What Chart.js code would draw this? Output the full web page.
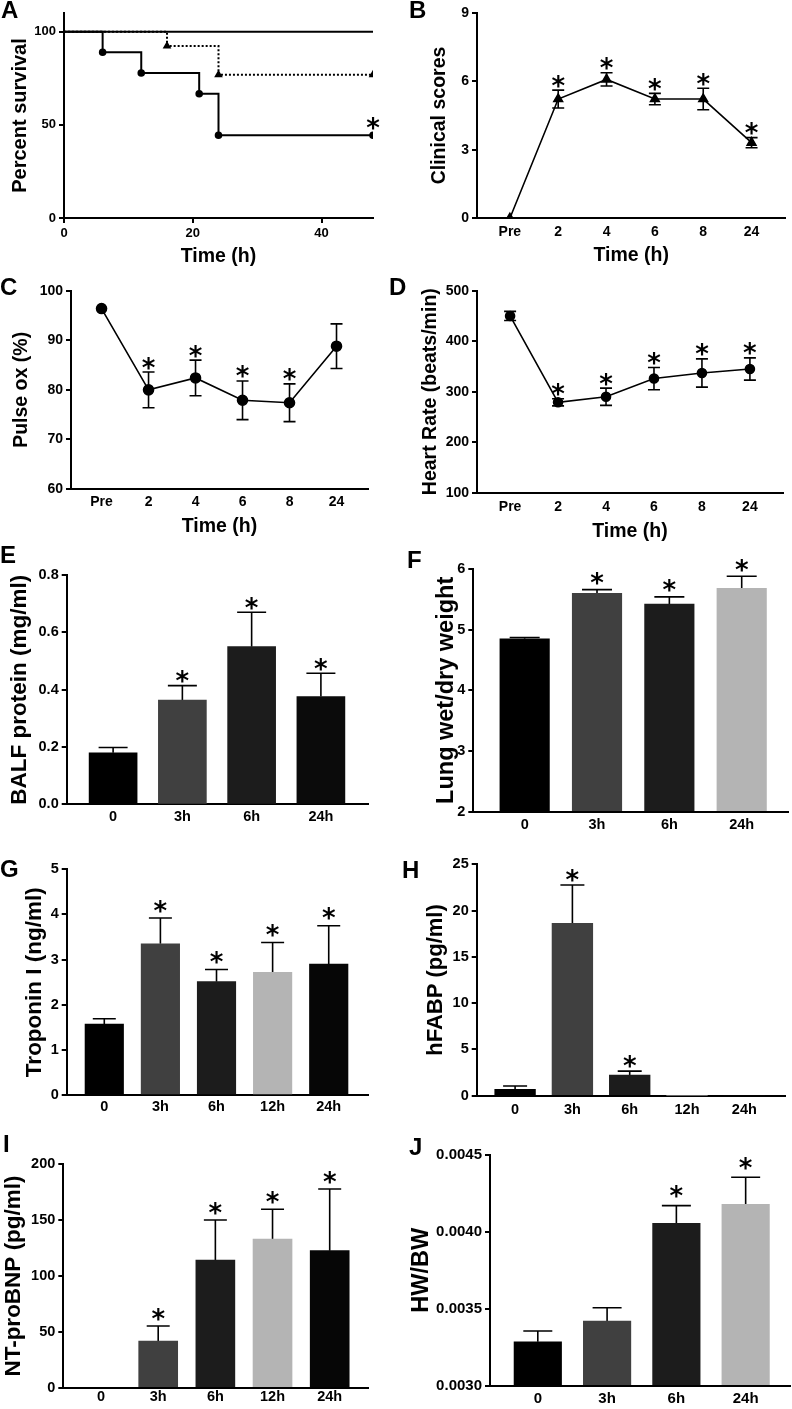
<!DOCTYPE html>
<html lang="en">
<head>
<meta charset="UTF-8">
<title>LPS time course - panels A to J</title>
<script src="https://cdn.jsdelivr.net/npm/chart.js"></script>
<style>
  body { margin: 0; background: #fff; }
  #fig { position: relative; width: 792px; height: 1409px; overflow: hidden; }
  #fig canvas { position: absolute; }
  .lbl { position: absolute; font: bold 24px "Liberation Sans", Arial, sans-serif; line-height: 24px; color: #000; }
</style>
</head>
<body>
<div id="fig">
  <canvas id="cA"></canvas><canvas id="cB"></canvas>
  <canvas id="cC"></canvas><canvas id="cD"></canvas>
  <canvas id="cE"></canvas><canvas id="cF"></canvas>
  <canvas id="cG"></canvas><canvas id="cH"></canvas>
  <canvas id="cI"></canvas><canvas id="cJ"></canvas>
  <div class="lbl" style="left:1px;top:-2px">A</div>
  <div class="lbl" style="left:409px;top:-2px">B</div>
  <div class="lbl" style="left:0px;top:275px">C</div>
  <div class="lbl" style="left:389px;top:275px">D</div>
  <div class="lbl" style="left:0px;top:543px">E</div>
  <div class="lbl" style="left:407px;top:548px">F</div>
  <div class="lbl" style="left:0px;top:857px">G</div>
  <div class="lbl" style="left:402px;top:858px">H</div>
  <div class="lbl" style="left:3px;top:1132px">I</div>
  <div class="lbl" style="left:409px;top:1135px">J</div>
</div>
<script>
  // ---- data ----
  // A: survival (%)
  const ctrlTimes = [0, 48];
  const ctrlSurv = [100, 100];
  const midTimes = [0, 16, 24, 48];
  const midSurv = [100, 92.3, 76.9, 76.9];
  const lpsTimes = [0, 6, 12, 21, 24, 48];
  const lpsSurv = [100, 88.9, 77.8, 66.7, 44.4, 44.4];
  const lpsSig = [false, false, false, false, false, true];

  // B-D: time course
  const timeLabels = ['Pre', '2', '4', '6', '8', '24'];
  const clinMean = [0, 5.22, 6.08, 5.22, 5.22, 3.31];
  const clinErr = [0, 0.39, 0.29, 0.25, 0.47, 0.22];
  const clinSig = [false, true, true, true, true, true];
  const oxMean = [96.4, 80.0, 82.4, 77.9, 77.4, 88.8];
  const oxErr = [0, 3.6, 3.6, 3.9, 3.8, 4.5];
  const oxSig = [false, true, true, true, true, false];
  const hrMean = [450, 279, 290, 326, 337, 345];
  const hrErr = [9, 7, 17, 22, 28, 22];
  const hrSig = [false, true, true, true, true, true];

  // E-J: bars
  const groups4 = ['0', '3h', '6h', '24h'];
  const groups5 = ['0', '3h', '6h', '12h', '24h'];
  const balfMean = [0.180, 0.364, 0.550, 0.376];
  const balfErr = [0.018, 0.050, 0.120, 0.081];
  const balfSig = [false, true, true, true];
  const lungMean = [4.85, 5.60, 5.42, 5.68];
  const lungErr = [0.02, 0.06, 0.12, 0.20];
  const lungSig = [false, true, true, true];
  const tropMean = [1.57, 3.35, 2.51, 2.72, 2.90];
  const tropErr = [0.12, 0.57, 0.27, 0.66, 0.85];
  const tropSig = [false, true, true, true, true];
  const fabpMean = [0.68, 18.62, 2.23, 0, 0];
  const fabpErr = [0.36, 4.15, 0.43, 0, 0];
  const fabpSig = [false, true, true, false, false];
  const bnpMean = [0, 41.8, 114.3, 133.1, 122.7];
  const bnpErr = [0, 13.4, 35.8, 26.6, 55.2];
  const bnpSig = [false, true, true, true, true];
  const hwMean = [0.003286, 0.003420, 0.004056, 0.004179];
  const hwErr = [0.000070, 0.000087, 0.000115, 0.000176];
  const hwSig = [false, false, true, true];

  const colors4 = ['#000000', '#404040', '#1c1c1c', '#0b0b0b'];
  const colors4b = ['#000000', '#404040', '#1c1c1c', '#b4b4b4'];
  const colors5 = ['#000000', '#404040', '#1c1c1c', '#b4b4b4', '#060606'];

  const FONT = '"Liberation Sans", Arial, Helvetica, sans-serif';

  // error bars + asterisks, drawn from the scales
  function errorBars(e) {
    return {
      id: 'errorBars',
      beforeDatasetsDraw(chart) {
        const { ctx, scales: { x, y } } = chart;
        ctx.save();
        ctx.strokeStyle = '#000';
        ctx.lineWidth = 1.6;
        e.mean.forEach((m, i) => {
          const err = e.err ? e.err[i] : 0;
          if (!err) return;
          const px = x.getPixelForValue(e.xs ? e.xs[i] : i);
          const top = y.getPixelForValue(m + err);
          const bot = y.getPixelForValue(e.both ? m - err : m);
          const hw = e.cap / 2;
          ctx.beginPath();
          ctx.moveTo(px, bot); ctx.lineTo(px, top);
          ctx.moveTo(px - hw, top); ctx.lineTo(px + hw, top);
          if (e.both) { ctx.moveTo(px - hw, bot); ctx.lineTo(px + hw, bot); }
          ctx.stroke();
        });
        ctx.restore();
      },
      afterDatasetsDraw(chart) {
        const { ctx, scales: { x, y } } = chart;
        const size = e.starSize || 26;
        ctx.save();
        ctx.fillStyle = '#000';
        ctx.font = 'bold ' + size + 'px "DejaVu Sans", sans-serif';
        ctx.textAlign = 'center';
        ctx.textBaseline = 'alphabetic';
        e.mean.forEach((m, i) => {
          if (!e.sig[i]) return;
          const px = x.getPixelForValue(e.xs ? e.xs[i] : i);
          const cy = y.getPixelForValue(m + (e.err ? e.err[i] : 0)) - e.gap;
          ctx.fillText('*', px, cy + 0.56 * size);
        });
        ctx.restore();
      }
    };
  }

  // box = canvas [left, top, w, h]; plot = chart area [left, top, right, bottom]
  function panel(id, box, plot, o) {
    const cv = document.getElementById(id);
    cv.width = box[2];
    cv.height = box[3];
    cv.style.left = box[0] + 'px';
    cv.style.top = box[1] + 'px';
    const yW = plot[0] - box[0];
    const xH = box[1] + box[3] - plot[3];
    const tickFont = { family: FONT, size: o.tickSize, weight: 'bold' };
    const yPadTop = Math.max(0, o.yTitleX - box[0] - 0.6 * o.yTitleSize);
    const xTitle = o.xTitle
      ? { display: true, text: o.xTitle, color: '#000',
          font: { family: FONT, size: o.xTitleSize, weight: 'bold' },
          padding: { top: 0, bottom: Math.max(0, box[1] + box[3] - o.xTitleY - 0.6 * o.xTitleSize) } }
      : { display: false };

    return new Chart(cv, {
      type: o.type,
      data: { datasets: o.datasets },
      options: {
        responsive: false,
        animation: false,
        events: [],
        layout: { padding: { left: 0, top: plot[1] - box[1], right: box[0] + box[2] - plot[2], bottom: 0 } },
        plugins: { legend: { display: false }, tooltip: { enabled: false } },
        scales: {
          x: {
            type: 'linear',
            min: o.xMin, max: o.xMax,
            offset: false,
            afterFit: s => { s.height = xH; },
            afterBuildTicks: s => { s.ticks = o.xTicks.map(v => ({ value: v })); },
            ticks: {
              callback: o.xFmt || (v => String(v)),
              font: tickFont, color: '#000', padding: o.xPad,
              maxRotation: 0, autoSkip: false
            },
            grid: { drawOnChartArea: false, offset: false, drawTicks: !!o.xTickMarks, tickLength: 5, color: '#000', lineWidth: 2 },
            border: { color: '#000', width: 2 },
            title: xTitle
          },
          y: {
            min: o.yTicks[0], max: o.yMax,
            afterFit: s => { s.width = yW; },
            afterBuildTicks: s => { s.ticks = o.yTicks.map(v => ({ value: v })); },
            ticks: {
              callback: o.yFmt || (v => String(v)),
              font: tickFont, color: '#000', padding: 3
            },
            grid: { drawOnChartArea: false, drawTicks: true, tickLength: 5, color: '#000', lineWidth: 2 },
            border: { color: '#000', width: 2 },
            title: {
              display: true, text: o.yTitle, color: '#000',
              font: { family: FONT, size: o.yTitleSize, weight: 'bold' },
              padding: { top: yPadTop, bottom: 0 }
            }
          }
        }
      },
      plugins: [errorBars(o.err)]
    });
  }

  const pts = (xs, ys) => ys.map((v, i) => ({ x: xs[i], y: v }));
  const idx = arr => arr.map((_, i) => i);

  // ---- A ----
  panel('cA', [0, 0, 390, 270], [64, 13, 373, 218], {
    type: 'line',
    datasets: [
      { data: pts(midTimes, midSurv), stepped: 'before', borderColor: '#000', borderWidth: 2, borderDash: [2, 2],
        pointStyle: 'triangle', pointRadius: [0, 3, 3, 3], pointBackgroundColor: '#000', pointBorderColor: '#000' },
      { data: pts(lpsTimes, lpsSurv), stepped: 'before', borderColor: '#000', borderWidth: 2,
        pointStyle: 'circle', pointRadius: [0, 2.8, 2.8, 2.8, 2.8, 2.8], pointBackgroundColor: '#000', pointBorderColor: '#000' },
      { data: pts(ctrlTimes, ctrlSurv), stepped: 'before', borderColor: '#000', borderWidth: 2, pointRadius: 0 }
    ],
    xMin: 0, xMax: 48, xTicks: [0, 20, 40], xTickMarks: true, xPad: 3,
    yTicks: [0, 50, 100], yMax: 110,
    tickSize: 13, yTitle: 'Percent survival', yTitleSize: 20, yTitleX: 20,
    xTitle: 'Time (h)', xTitleSize: 19.5, xTitleY: 257,
    err: { xs: lpsTimes, mean: lpsSurv, err: null, sig: lpsSig, gap: 13, cap: 0 }
  });

  // ---- B-D ----
  function linePanel(id, box, plot, mean, err, sig, style, radius, extra) {
    return panel(id, box, plot, Object.assign({
      type: 'line',
      datasets: [{ data: pts(idx(mean), mean), borderColor: '#000', borderWidth: 1.6, tension: 0,
        pointStyle: style, pointRadius: radius, pointBackgroundColor: '#000', pointBorderColor: '#000' }],
      xTicks: idx(timeLabels), xFmt: v => timeLabels[v],
      xTitle: 'Time (h)', xTitleSize: 19.5,
      err: { mean, err, sig, both: true, cap: 12, gap: 10 }
    }, extra));
  }

  linePanel('cB', [390, 0, 402, 270], [477, 12.7, 787, 218.3], clinMean, clinErr, clinSig, 'triangle', 5, {
    xMin: -0.68, xMax: 5.7, xPad: 5, yTicks: [0, 3, 6, 9], yMax: 9,
    tickSize: 14, yTitle: 'Clinical scores', yTitleSize: 19.5, yTitleX: 440, xTitleY: 256
  });
  linePanel('cC', [0, 270, 390, 280], [71, 290.7, 368, 489], oxMean, oxErr, oxSig, 'circle', 5, {
    xMin: -0.65, xMax: 5.67, xPad: 5, yTicks: [60, 70, 80, 90, 100], yMax: 100,
    tickSize: 14, yTitle: 'Pulse ox (%)', yTitleSize: 19.5, yTitleX: 22, xTitleY: 527
  });
  linePanel('cD', [390, 270, 402, 280], [477, 290.7, 783, 492.7], hrMean, hrErr, hrSig, 'circle', 4.5, {
    xMin: -0.69, xMax: 5.69, xPad: 6, yTicks: [100, 200, 300, 400, 500], yMax: 500,
    tickSize: 14, yTitle: 'Heart Rate (beats/min)', yTitleSize: 19.5, yTitleX: 431, xTitleY: 532
  });

  // ---- E-J ----
  function barPanel(id, box, plot, labels, mean, err, sig, colors, width, extra) {
    const base = extra.yTicks[0];
    return panel(id, box, plot, Object.assign({
      type: 'bar',
      datasets: [{ data: pts(idx(mean), mean), backgroundColor: colors, borderWidth: 0,
        barThickness: width, base: base }],
      xTicks: idx(labels), xFmt: v => labels[v],
      err: { mean, err, sig, both: false, cap: Math.round(width * 0.6), gap: extra.gap || 12 }
    }, extra));
  }

  barPanel('cE', [0, 550, 390, 290], [66.7, 575, 368, 804.3], groups4, balfMean, balfErr, balfSig, colors4, 48, {
    xMin: -0.67, xMax: 3.68, xPad: 4, yTicks: [0, 0.2, 0.4, 0.6, 0.8], yMax: 0.8, yFmt: v => v.toFixed(1),
    tickSize: 14.5, yTitle: 'BALF protein (mg/ml)', yTitleSize: 22.5, yTitleX: 20, gap: 10
  });
  barPanel('cF', [390, 550, 402, 290], [473.3, 569, 788, 811.7], groups4, lungMean, lungErr, lungSig, colors4b, 49.5, {
    xMin: -0.71, xMax: 3.64, xPad: 5, yTicks: [2, 3, 4, 5, 6], yMax: 6,
    tickSize: 14.5, yTitle: 'Lung wet/dry weight', yTitleSize: 23.5, yTitleX: 447, gap: 12
  });
  barPanel('cG', [0, 840, 390, 280], [66.7, 869.3, 368, 1095], groups5, tropMean, tropErr, tropSig, colors5, 38.5, {
    xMin: -0.67, xMax: 4.7, xPad: 3, yTicks: [0, 1, 2, 3, 4, 5], yMax: 5,
    tickSize: 14.5, yTitle: 'Troponin I (ng/ml)', yTitleSize: 22.5, yTitleX: 35, gap: 13
  });
  barPanel('cH', [390, 840, 402, 280], [476.7, 864.3, 785, 1095.7], groups5, fabpMean, fabpErr, fabpSig, colors5, 40.7, {
    xMin: -0.67, xMax: 4.71, xPad: 6, yTicks: [0, 5, 10, 15, 20, 25], yMax: 25,
    tickSize: 14.5, yTitle: 'hFABP (pg/ml)', yTitleSize: 22, yTitleX: 436, gap: 11
  });
  barPanel('cI', [0, 1120, 390, 289], [63.3, 1164.3, 368, 1387.7], groups5, bnpMean, bnpErr, bnpSig, colors5, 39, {
    xMin: -0.66, xMax: 4.67, xPad: 1, yTicks: [0, 50, 100, 150, 200], yMax: 200,
    tickSize: 14.5, yTitle: 'NT-proBNP (pg/ml)', yTitleSize: 22.5, yTitleX: 13, gap: 13
  });
  barPanel('cJ', [390, 1120, 402, 289], [490, 1155, 790, 1385.7], groups4, hwMean, hwErr, hwSig, colors4b, 47.5, {
    xMin: -0.69, xMax: 3.64, xPad: 4, yTicks: [0.003, 0.0035, 0.004, 0.0045], yMax: 0.0045, yFmt: v => v.toFixed(4),
    tickSize: 15, yTitle: 'HW/BW', yTitleSize: 23.5, yTitleX: 422, gap: 15
  });
</script>
</body>
</html>
